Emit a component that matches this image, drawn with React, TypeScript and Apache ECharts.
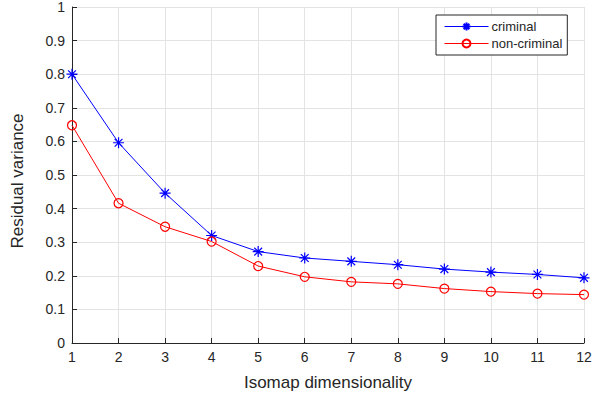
import React, { useEffect, useRef } from "react";
import * as echarts from "echarts";

const dims = [1, 2, 3, 4, 5, 6, 7, 8, 9, 10, 11, 12];
const criminal = [0.8, 0.596, 0.446, 0.32, 0.272, 0.253, 0.243, 0.233, 0.22, 0.211, 0.204, 0.194];
const nonCriminal = [0.648, 0.416, 0.346, 0.302, 0.229, 0.197, 0.182, 0.176, 0.162, 0.153, 0.147, 0.144];

const TEXT = "#262626";
const GRIDC = "#e3e3e3";
const FONT = "'Liberation Sans', Arial, Helvetica, sans-serif";
const STAR = "path://M0,-5L0,5M-5,0L5,0M-3.54,-3.54L3.54,3.54M-3.54,3.54L3.54,-3.54";

export default function App() {
  const ref = useRef<HTMLDivElement>(null);
  useEffect(() => {
    if (!ref.current) return;
    const chart = echarts.init(ref.current, undefined, { renderer: "svg" });
    const axisCommon = {
      axisLine: { show: true, lineStyle: { color: TEXT, width: 1 } },
      axisTick: { show: true, inside: true, length: 5, lineStyle: { color: TEXT } },
      splitLine: { show: true, lineStyle: { color: GRIDC, width: 1 } },
      axisLabel: { color: TEXT, fontSize: 14, fontFamily: FONT },
      nameLocation: "middle" as const,
    };
    chart.setOption({
      animation: false,
      backgroundColor: "#ffffff",
      grid: { left: 72, right: 17, top: 3, bottom: 54 },
      xAxis: {
        type: "value",
        min: 1,
        max: 12,
        interval: 1,
        name: "Isomap dimensionality",
        nameGap: 31,
        ...axisCommon,
        nameTextStyle: { color: TEXT, fontSize: 17, fontFamily: FONT },
        axisLabel: { ...axisCommon.axisLabel, margin: 7 },
      },
      yAxis: {
        type: "value",
        min: 0,
        max: 1,
        interval: 0.1,
        name: "Residual variance",
        nameGap: 46,
        ...axisCommon,
        nameTextStyle: { color: TEXT, fontSize: 17, fontFamily: FONT, padding: [0, 12, 0, 0] },
        axisLabel: {
          ...axisCommon.axisLabel,
          margin: 7,
          formatter: (v: number) => String(Math.round(v * 10) / 10),
        },
      },
      legend: {
        orient: "vertical",
        left: 436,
        top: 15,
        padding: [5, 5, 5, 8],
        itemGap: 4,
        itemWidth: 44,
        itemHeight: 10,
        backgroundColor: "#ffffff",
        borderColor: TEXT,
        borderWidth: 1,
        borderRadius: 0,
        lineStyle: { width: 1 },
        textStyle: { color: TEXT, fontSize: 13, fontFamily: FONT, padding: [0, 0, 0, -2] },
        data: ["criminal", "non-criminal"],
      },
      series: [
        {
          name: "criminal",
          type: "line",
          data: dims.map((d, i) => [d, criminal[i]]),
          symbol: STAR,
          symbolSize: 11,
          lineStyle: { color: "#0000ff", width: 1 },
          itemStyle: { color: "none", borderColor: "#0000ff", borderWidth: 1.2 },
        },
        {
          name: "non-criminal",
          type: "line",
          data: dims.map((d, i) => [d, nonCriminal[i]]),
          symbol: "circle",
          symbolSize: 9,
          lineStyle: { color: "#ff0000", width: 1 },
          itemStyle: { color: "none", borderColor: "#ff0000", borderWidth: 1.2 },
        },
      ],
    });
    return () => chart.dispose();
  }, []);
  return (
    <div
      ref={ref}
      style={{ position: "fixed", left: 0, top: 0, width: 601, height: 397, background: "#fff" }}
    />
  );
}
